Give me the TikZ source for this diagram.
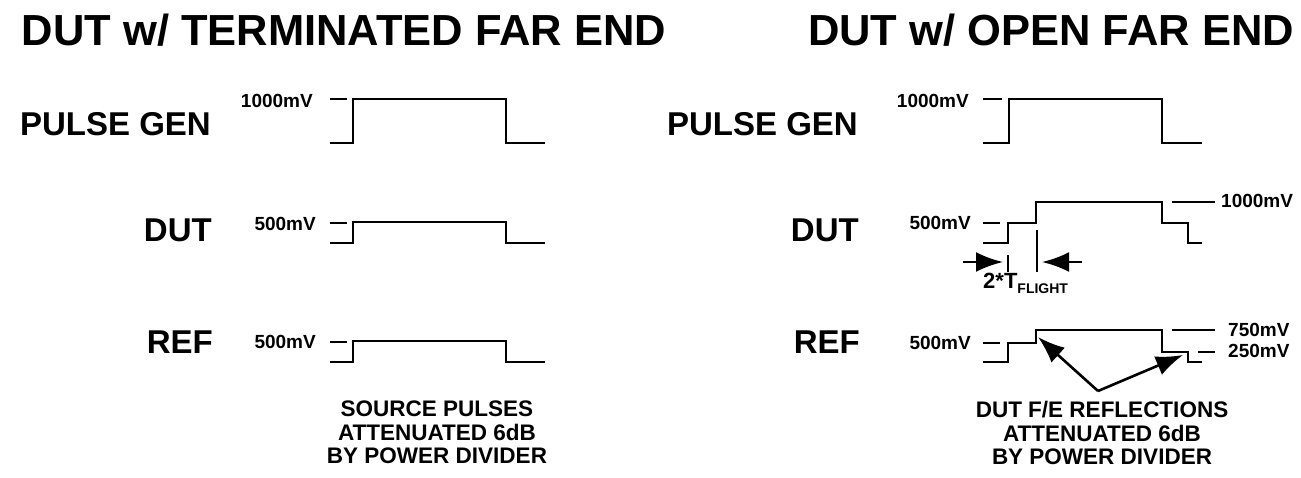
\documentclass[tikz,border=0pt]{standalone}
\usepackage{fontspec}
\setmainfont{Liberation Sans}
\usetikzlibrary{arrows.meta}
\newcommand{\fsize}[1]{\fontsize{#1}{#1}\selectfont\bfseries}
\newcommand{\tflight}{{\fsize{22}2*T}{\fsize{14}\raisebox{-5pt}{FLIGHT}}}
\tikzset{
    heading/.style={inner sep=0pt, font=\fsize{43.5}},
    signal/.style={inner sep=0pt, anchor=east, font=\fsize{33}},
    level/.style={inner sep=0pt, anchor=east, font=\fsize{19}},
    levelright/.style={level, anchor=west},
    note/.style={inner sep=0pt, anchor=north, align=center, font=\fontsize{22.5}{23.5}\selectfont\bfseries},
    wave/.style={line width=2.5pt, line join=miter},
    tickline/.style={line width=2.5pt},
    bigarrow/.style={line width=2.6pt, -{Latex[length=27pt, width=20pt]}}
}
\begin{document}
\begin{tikzpicture}[x=1pt, y=-1pt]
    \useasboundingbox (0,0) rectangle (1301,477);

    % titles
    \node[heading] (termtitle) at (344,30) {DUT w/ TERMINATED FAR END};
    \node[heading] (opentitle) at (1051,30) {DUT w/ OPEN FAR END};

    % terminated far end
    \node[signal] (termgen) at (211,124) {PULSE GEN};
    \node[signal] (termdut) at (212,230) {DUT};
    \node[signal] (termref) at (213,342) {REF};

    \node[level] (termgenlvl) at (313,101) {1000mV};
    \node[level] (termdutlvl) at (316,224) {500mV};
    \node[level] (termreflvl) at (316,342) {500mV};

    \draw[tickline] (330,99) -- (347,99);
    \draw[tickline] (330,223) -- (347,223);
    \draw[tickline] (330,342) -- (347,342);

    \draw[wave] (330,143) -- ++(23,0) -- ++(0,-44) -- ++(153,0) -- ++(0,44) -- ++(39,0);
    \draw[wave] (330,243) -- ++(23,0) -- ++(0,-21) -- ++(153,0) -- ++(0,21) -- ++(39,0);
    \draw[wave] (330,362) -- ++(23,0) -- ++(0,-21) -- ++(153,0) -- ++(0,21) -- ++(39,0);

    \node[note] (termnote) at (437,401) {SOURCE PULSES\\ATTENUATED 6dB\\BY POWER DIVIDER};

    % open far end
    \node[signal] (opengen) at (858,124) {PULSE GEN};
    \node[signal] (opendut) at (859,230) {DUT};
    \node[signal] (openref) at (860,342) {REF};

    \node[level] (opengenlvl) at (969,101) {1000mV};
    \node[level] (opendutlvl) at (971,223) {500mV};
    \node[level] (openreflvl) at (971,343) {500mV};
    \node[levelright] (opendutmax) at (1221,201) {1000mV};
    \node[levelright] (openrefmax) at (1228,330) {750mV};
    \node[levelright] (openrefmin) at (1228,351) {250mV};

    \draw[tickline] (983,99) -- (1002,99);
    \draw[tickline] (983,223) -- (1000,223);
    \draw[tickline] (983,343) -- (1000,343);
    \draw[tickline] (1172,202) -- (1215,202);
    \draw[tickline] (1172,330) -- (1215,330);
    \draw[tickline] (1198,352) -- (1215,352);

    \draw[wave] (983,143) -- ++(26,0) -- ++(0,-44) -- ++(153,0) -- ++(0,44) -- ++(40,0);
    \draw[wave] (983,243) -- ++(25,0) -- ++(0,-20) -- ++(28,0) -- ++(0,-21)
        -- ++(126,0) -- ++(0,21) -- ++(26,0) -- ++(0,20) -- ++(14,0);
    \draw[wave] (983,362) -- ++(25,0) -- ++(0,-19) -- ++(28,0) -- ++(0,-13)
        -- ++(126,0) -- ++(0,22) -- ++(26,0) -- ++(0,10) -- ++(14,0);

    % round trip markers
    \draw[tickline] (1008,255) -- (1008,272);
    \draw[tickline] (1037,230) -- (1037,272);
    \coordinate (flightleft) at (963,262);
    \coordinate (flightright) at (1082,262);
    \draw[bigarrow] (flightleft) -- (1003,262);
    \draw[bigarrow] (flightright) -- (1042,262);
    \node[inner sep=0pt, anchor=base west] (flightlbl) at (983,288) {\tflight};

    % reflections
    \coordinate (reflapex) at (1098,391);
    \coordinate (reflrise) at (1038,337);
    \coordinate (reflfall) at (1183,355);
    \draw[bigarrow] (reflapex) -- (reflrise);
    \draw[bigarrow] (reflapex) -- (reflfall);

    \node[note] (opennote) at (1102,401) {DUT F/E REFLECTIONS\\ATTENUATED 6dB\\BY POWER DIVIDER};
\end{tikzpicture}
\end{document}
